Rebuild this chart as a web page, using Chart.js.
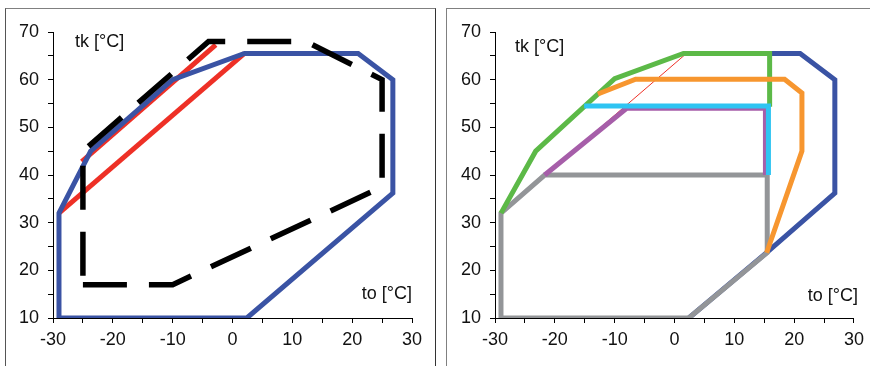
<!DOCTYPE html>
<html>
<head>
<meta charset="utf-8">
<script src="https://cdn.jsdelivr.net/npm/chart.js@4/dist/chart.umd.min.js"></script>
<style>
    body { margin: 0; background: #fff; width: 870px; height: 366px; overflow: hidden; position: relative; }
    .frame { position: absolute; top: 8px; height: 400px; border: 1px solid #808080; border-bottom: none; }
    canvas { position: absolute; top: 0; }
</style>
</head>
<body>
<div class="frame" style="left:5px; width:429px; border-left-color:#555; border-right-color:#333;"></div>
<div class="frame" style="left:446px; width:440px;"></div>
<canvas id="leftChart" style="left:0; width:435px; height:366px;" width="435" height="366"></canvas>
<canvas id="rightChart" style="left:440px; width:430px; height:366px;" width="430" height="366"></canvas>
<script>
// to [°C] / tk [°C] points of each envelope
const envelopeTo = [-29, -29, -23.7, -10, 2, 21, 26.8, 26.8, 2.4, -29];
const envelopeTk = [10, 32, 45, 60, 65.5, 65.5, 60, 36.2, 10, 10];

// part of the envelope still visible on the right panel
const outerTo = [15.9, 21, 26.8, 26.8, 15.4, 2.4];
const outerTk = [65.5, 65.5, 60, 36.2, 23.7, 10];

const redMainTo = [-29, 2];
const redMainTk = [32, 65.5];
const redUpperTo = [-25.2, -2.8];
const redUpperTk = [42.8, 67.3];

const dashedTo = [-25, -10, 25, 25, 12.3, -4, -25, -25];
const dashedTk = [17, 17, 37.5, 60, 68, 68, 45, 17];

const greenTo = [-29, -23.2, -10, 1.5, 15.9, 15.9];
const greenTk = [32, 45, 60.2, 65.5, 65.5, 54.3];

const orangeTo = [-12.8, -6.5, 18.4, 21.3, 21.3, 15.4];
const orangeTk = [57, 60.1, 60.1, 57.2, 45, 23.7];

const cyanTo = [-15.1, 15.7, 15.7];
const cyanTk = [54.5, 54.5, 40];

const purpleTo = [-21.7, -8, 15.2, 15.2];
const purpleTk = [40, 54, 54, 40];

const grayTo = [-29, -29, -21.7, 15.5, 15.5, 2.4, -29];
const grayTk = [10, 32, 40, 40, 23.7, 10, 10];

const xTicks = [-30, -20, -10, 0, 10, 20, 30];
const yTicks = [10, 20, 30, 40, 50, 60, 70];

Chart.defaults.font.family = "'Liberation Sans', Arial, sans-serif";
Chart.defaults.font.size = 18;
Chart.defaults.color = '#111';

function toPoints(xs, ys) {
    return xs.map((x, i) => ({ x: x, y: ys[i] }));
}

// note: Chart.js paints dataset 0 on top, so lists below go top -> bottom
function lineSet(xs, ys, color, width, dash) {
    return {
        data: toPoints(xs, ys),
        showLine: true,
        borderColor: color,
        backgroundColor: color,
        borderWidth: width,
        borderDash: dash || [],
        borderJoinStyle: 'miter',
        borderCapStyle: 'butt',
        pointRadius: 0,
        tension: 0,
        fill: false
    };
}

// axis names written inside the plot
const notesPlugin = {
    id: 'notes',
    afterDraw(chart, args, opts) {
        const ctx = chart.ctx;
        ctx.save();
        ctx.font = "18px 'Liberation Sans', Arial, sans-serif";
        ctx.fillStyle = '#111';
        ctx.textBaseline = 'middle';
        opts.items.forEach(item => {
            ctx.textAlign = item.align;
            ctx.fillText(item.text, item.x, item.y);
        });
        ctx.restore();
    }
};

function axisOptions(leftWidth, rightPad) {
    return {
        responsive: false,
        animation: false,
        layout: { padding: { top: 32, right: rightPad, left: 0, bottom: 0 } },
        plugins: {
            legend: { display: false },
            tooltip: { enabled: false }
        },
        scales: {
            x: {
                type: 'linear',
                min: -30,
                max: 30,
                afterFit: scale => { scale.height = 48; },
                afterBuildTicks: scale => {
                    scale.ticks = [];
                    for (let v = -30; v <= 30; v += 5) scale.ticks.push({ value: v });
                },
                ticks: {
                    autoSkip: false,
                    maxRotation: 0,
                    padding: 6,
                    callback: v => xTicks.includes(v) ? String(v) : ''
                },
                grid: { drawOnChartArea: false, drawTicks: true, tickLength: 5, color: '#000' },
                border: { color: '#000', width: 1 }
            },
            y: {
                type: 'linear',
                min: 10,
                max: 70,
                afterFit: scale => { scale.width = leftWidth; },
                afterBuildTicks: scale => {
                    scale.ticks = [];
                    for (let v = 10; v <= 70; v += 5) scale.ticks.push({ value: v });
                },
                ticks: {
                    autoSkip: false,
                    padding: 9,
                    callback: v => yTicks.includes(v) ? String(v) : ''
                },
                grid: { drawOnChartArea: false, drawTicks: true, tickLength: 5, color: '#000' },
                border: { color: '#000', width: 1 }
            }
        }
    };
}

const leftOptions = axisOptions(53, 23);
leftOptions.plugins.notes = {
    items: [
        { text: 'tk [°C]', x: 75, y: 42, align: 'left' },
        { text: 'to [°C]', x: 412, y: 294, align: 'right' }
    ]
};

new Chart(document.getElementById('leftChart').getContext('2d'), {
    type: 'scatter',
    data: {
        datasets: [
            lineSet(dashedTo, dashedTk, '#000000', 5.5, [44, 22]),
            lineSet(envelopeTo, envelopeTk, '#3a53a4', 5),
            lineSet(redUpperTo, redUpperTk, '#ee3026', 5),
            lineSet(redMainTo, redMainTk, '#ee3026', 5)
        ]
    },
    options: leftOptions,
    plugins: [notesPlugin]
});

const rightOptions = axisOptions(55, 16);
rightOptions.plugins.notes = {
    items: [
        { text: 'tk [°C]', x: 75, y: 47, align: 'left' },
        { text: 'to [°C]', x: 418, y: 296, align: 'right' }
    ]
};

new Chart(document.getElementById('rightChart').getContext('2d'), {
    type: 'scatter',
    data: {
        datasets: [
            lineSet(orangeTo, orangeTk, '#f7962f', 5),
            lineSet(cyanTo, cyanTk, '#2ec4f2', 5),
            lineSet(greenTo, greenTk, '#5cb947', 5),
            lineSet(purpleTo, purpleTk, '#a65ea9', 5),
            lineSet(grayTo, grayTk, '#939598', 5),
            lineSet(outerTo, outerTk, '#3a53a4', 5),
            lineSet(redMainTo, redMainTk, '#ee3026', 1)
        ]
    },
    options: rightOptions,
    plugins: [notesPlugin]
});
</script>
</body>
</html>
